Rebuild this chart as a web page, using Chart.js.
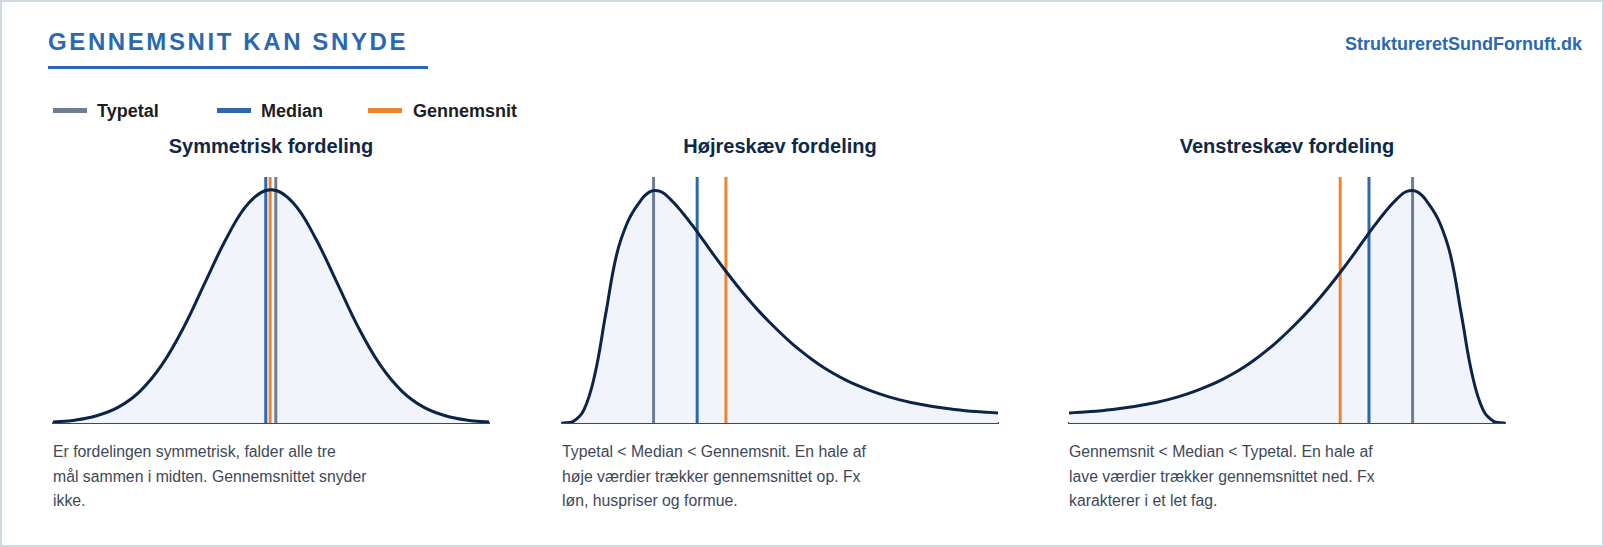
<!DOCTYPE html>
<html lang="da">
<head>
<meta charset="utf-8">
<title>Gennemsnit kan snyde</title>
<script src="https://cdn.jsdelivr.net/npm/chart.js@4.4.1/dist/chart.umd.min.js"></script>
<style>
    html, body { margin: 0; padding: 0; background: #fff; }
    body { width: 1604px; height: 547px; overflow: hidden; font-family: "Liberation Sans", Arial, Helvetica, sans-serif; }
    .page { position: relative; width: 1604px; height: 547px; }
    .page::after { content: ''; position: absolute; inset: 0; border: 2px solid #cfd9e3; pointer-events: none; }
    .title { position: absolute; left: 48px; top: 30px; font-size: 24px; line-height: 24px; font-weight: 700; letter-spacing: 2.6px; color: #2a68b2; white-space: nowrap; }
    .rule { position: absolute; left: 48px; top: 66px; width: 380px; height: 3px; background: #2a68b2; }
    .site { position: absolute; right: 22px; top: 35px; font-size: 18px; line-height: 18px; font-weight: 700; color: #2a68b2; }
    .swatch { position: absolute; top: 108px; width: 34px; height: 5px; }
    .legend-text { position: absolute; top: 102px; font-size: 18px; line-height: 18px; font-weight: 700; color: #1d1d1f; white-space: nowrap; }
    .panel-title { position: absolute; top: 136px; width: 436px; text-align: center; font-size: 20px; line-height: 20px; font-weight: 700; color: #0f2748; white-space: nowrap; }
    .chart-box { position: absolute; top: 175px; width: 440px; height: 251px; }
    .desc { position: absolute; top: 440px; font-size: 15.8px; line-height: 24.5px; color: #3d4858; white-space: nowrap; }
</style>
</head>
<body>
<div class="page">
    <div class="title">GENNEMSNIT KAN SNYDE</div>
    <div class="rule"></div>
    <div class="site">StruktureretSundFornuft.dk</div>

    <div class="swatch" style="left:53px; background:#6e7d94;"></div>
    <div class="legend-text" style="left:97px;">Typetal</div>
    <div class="swatch" style="left:217px; background:#2a68b2;"></div>
    <div class="legend-text" style="left:261px;">Median</div>
    <div class="swatch" style="left:368px; background:#ef8430;"></div>
    <div class="legend-text" style="left:413px;">Gennemsnit</div>

    <div class="panel-title" style="left:53px;">Symmetrisk fordeling</div>
    <div class="panel-title" style="left:562px;">Højreskæv fordeling</div>
    <div class="panel-title" style="left:1069px;">Venstreskæv fordeling</div>

    <div class="chart-box" style="left:51px;"><canvas id="symChart"></canvas></div>
    <div class="chart-box" style="left:560px;"><canvas id="rightChart"></canvas></div>
    <div class="chart-box" style="left:1067px;"><canvas id="leftChart"></canvas></div>

    <div class="desc" style="left:53px;">Er fordelingen symmetrisk, falder alle tre<br>mål sammen i midten. Gennemsnittet snyder<br>ikke.</div>
    <div class="desc" style="left:562px;">Typetal &lt; Median &lt; Gennemsnit. En hale af<br>høje værdier trækker gennemsnittet op. Fx<br>løn, huspriser og formue.</div>
    <div class="desc" style="left:1069px;">Gennemsnit &lt; Median &lt; Typetal. En hale af<br>lave værdier trækker gennemsnittet ned. Fx<br>karakterer i et let fag.</div>
</div>

<script>
// Fordelingskurver (x = position 0-100, y = relativ tæthed, top = 1)
const symX = [0, 5, 10, 15, 20, 25, 30, 35, 40, 45, 50, 55, 60, 65, 70, 75, 80, 85, 90, 95, 100];
const symY = [0.004, 0.012, 0.031, 0.068, 0.137, 0.25, 0.411, 0.607, 0.8, 0.946, 1, 0.946, 0.8, 0.607, 0.411, 0.25, 0.137, 0.068, 0.031, 0.012, 0.004];

const skewX = [0, 2.5, 5, 7.5, 10, 12.5, 15, 17.5, 20, 22.5, 25, 27.5, 30, 32.5, 35, 37.5, 40, 42.5, 45, 47.5,
    50, 52.5, 55, 57.5, 60, 62.5, 65, 67.5, 70, 72.5, 75, 77.5, 80, 82.5, 85, 87.5, 90, 92.5, 95, 97.5, 100];

const rightY = [0, 0.006, 0.055, 0.205, 0.465, 0.72, 0.86, 0.94, 0.99, 0.993, 0.957, 0.905, 0.845, 0.781, 0.716, 0.653, 0.593, 0.536, 0.483, 0.434,
    0.388, 0.345, 0.306, 0.27, 0.238, 0.21, 0.185, 0.163, 0.144, 0.127, 0.112, 0.099, 0.088, 0.079, 0.071, 0.064, 0.058, 0.053, 0.049, 0.046, 0.043];

const leftY = [0.043, 0.046, 0.049, 0.053, 0.058, 0.064, 0.071, 0.079, 0.088, 0.099, 0.112, 0.127, 0.144, 0.163, 0.185, 0.21, 0.238, 0.27, 0.306, 0.345,
    0.388, 0.434, 0.483, 0.536, 0.593, 0.653, 0.716, 0.781, 0.845, 0.905, 0.957, 0.993, 0.99, 0.94, 0.86, 0.72, 0.465, 0.205, 0.055, 0.006, 0];

// Lodrette markeringer pr. panel: symmetrisk, højreskæv, venstreskæv
const typetal = [51.1, 21.0, 78.8];
const median = [48.8, 31.0, 68.8];
const gennemsnit = [49.8, 37.6, 62.2];

const Y_MAX = 1.055;

const COLORS = {
    curve: '#0b2447',
    fill: '#f1f5fb',
    axis: '#3b4a5f',
    typetal: '#6e7d94',
    median: '#2a68b2',
    gennemsnit: '#ef8430'
};

function markerDataset(xValue, color, order) {
    return {
        data: [{ x: xValue, y: 0 }, { x: xValue, y: Y_MAX }],
        borderColor: color,
        borderWidth: 3,
        pointRadius: 0,
        fill: false,
        order: order
    };
}

function drawPanel(canvasId, xs, ys, idx) {
    const points = xs.map((x, i) => ({ x: x, y: ys[i] }));

    new Chart(document.getElementById(canvasId), {
        type: 'line',
        data: {
            datasets: [
                {
                    data: points,
                    borderColor: COLORS.curve,
                    borderWidth: 3,
                    backgroundColor: COLORS.fill,
                    fill: 'origin',
                    pointRadius: 0,
                    tension: 0.4,
                    order: 0
                },
                markerDataset(gennemsnit[idx], COLORS.gennemsnit, 1),
                markerDataset(median[idx], COLORS.median, 2),
                markerDataset(typetal[idx], COLORS.typetal, 3)
            ]
        },
        options: {
            responsive: true,
            maintainAspectRatio: false,
            animation: false,
            devicePixelRatio: 1,
            layout: { padding: { left: 2, right: 2, top: 2, bottom: 3 } },
            plugins: {
                legend: { display: false },
                tooltip: { enabled: false },
                filler: { drawTime: 'beforeDatasetsDraw' }
            },
            scales: {
                x: {
                    type: 'linear',
                    min: 0,
                    max: 100,
                    ticks: { display: false },
                    grid: { display: false, drawTicks: false },
                    border: { display: true, color: COLORS.axis, width: 2 }
                },
                y: {
                    display: false,
                    min: 0,
                    max: Y_MAX
                }
            }
        }
    });
    console.log('✅ Panel drawn:', canvasId);
}

drawPanel('symChart', symX, symY, 0);
drawPanel('rightChart', skewX, rightY, 1);
drawPanel('leftChart', skewX, leftY, 2);
</script>
</body>
</html>
